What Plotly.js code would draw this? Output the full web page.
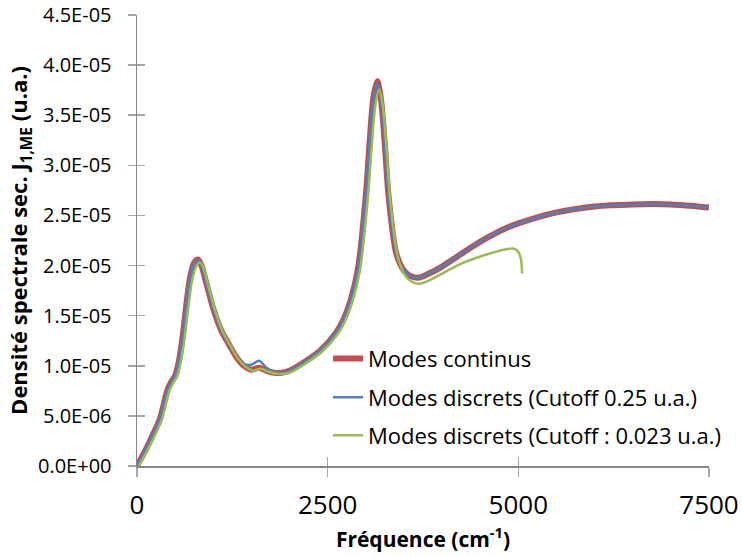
<!DOCTYPE html>
<html>
<head>
<meta charset="utf-8">
<script src="https://cdn.plot.ly/plotly-3.0.1.min.js"></script>
<style>html,body{margin:0;padding:0;background:#fff;}#chart{width:742px;height:557px;}</style>
</head>
<body>
<div id="chart"></div>
<script>
// Frequencies (cm-1) for continuous modes and discrete modes (cutoff 0.25 u.a.)
const freq = [0,100,200,300,400,450,500,550,600,650,
  700,750,800,850,900,1000,1100,1200,1300,1400,
  1500,1600,1700,1800,1900,2000,2200,2400,2600,2700,
  2800,2900,3000,3050,3100,3150,3200,3250,3300,3400,
  3500,3600,3700,3800,4000,4200,4400,4600,4800,5000,
  5500,6000,6500,7000,7500];

const modesContinus = [0,0.14e-5,0.30e-5,0.47e-5,0.76e-5,0.84e-5,0.90e-5,1.05e-5,1.30e-5,1.63e-5,
  1.90e-5,2.03e-5,2.06e-5,1.99e-5,1.85e-5,1.57e-5,1.36e-5,1.22e-5,1.09e-5,1.00e-5,
  0.96e-5,0.98e-5,0.95e-5,0.93e-5,0.93e-5,0.95e-5,1.04e-5,1.15e-5,1.32e-5,1.45e-5,
  1.65e-5,1.98e-5,2.70e-5,3.23e-5,3.68e-5,3.84e-5,3.65e-5,3.20e-5,2.68e-5,2.12e-5,
  1.95e-5,1.89e-5,1.88e-5,1.91e-5,1.99e-5,2.09e-5,2.19e-5,2.28e-5,2.36e-5,2.42e-5,
  2.53e-5,2.59e-5,2.61e-5,2.61e-5,2.58e-5];

const modesDiscrets025 = [0,0.14e-5,0.30e-5,0.47e-5,0.76e-5,0.84e-5,0.90e-5,1.05e-5,1.30e-5,1.63e-5,
  1.90e-5,2.02e-5,2.05e-5,1.99e-5,1.85e-5,1.57e-5,1.36e-5,1.22e-5,1.10e-5,1.02e-5,
  1.01e-5,1.05e-5,0.98e-5,0.93e-5,0.93e-5,0.95e-5,1.04e-5,1.15e-5,1.32e-5,1.45e-5,
  1.65e-5,1.98e-5,2.70e-5,3.23e-5,3.67e-5,3.82e-5,3.64e-5,3.20e-5,2.68e-5,2.12e-5,
  1.95e-5,1.89e-5,1.88e-5,1.91e-5,1.99e-5,2.09e-5,2.19e-5,2.28e-5,2.36e-5,2.42e-5,
  2.53e-5,2.59e-5,2.61e-5,2.61e-5,2.58e-5];

// Discrete modes (cutoff 0.023 u.a.)
const freqCutoff0023 = [25,125,225,325,425,475,525,575,625,675,
  725,775,825,875,925,1025,1125,1225,1325,1425,
  1525,1625,1725,1825,1925,2025,2225,2425,2625,2725,
  2825,2925,3025,3075,3125,3175,3225,3275,3325,3425,
  3525,3625,3725,3825,4025,4225,4425,4625,4825,4925,
  4985,5030,5050];

const modesDiscrets0023 = [0,0.14e-5,0.29e-5,0.46e-5,0.75e-5,0.83e-5,0.89e-5,1.04e-5,1.28e-5,1.60e-5,
  1.86e-5,1.99e-5,2.03e-5,1.97e-5,1.83e-5,1.55e-5,1.34e-5,1.20e-5,1.07e-5,0.99e-5,
  0.95e-5,0.97e-5,0.94e-5,0.92e-5,0.92e-5,0.94e-5,1.03e-5,1.14e-5,1.31e-5,1.44e-5,
  1.64e-5,1.96e-5,2.66e-5,3.16e-5,3.60e-5,3.76e-5,3.58e-5,3.14e-5,2.62e-5,2.07e-5,
  1.89e-5,1.83e-5,1.82e-5,1.85e-5,1.93e-5,2.01e-5,2.07e-5,2.12e-5,2.16e-5,2.17e-5,
  2.15e-5,2.08e-5,1.92e-5];

const seriesNames = ['Modes continus','Modes discrets (Cutoff 0.25 u.a.)','Modes discrets (Cutoff : 0.023 u.a.)'];

const xTickVals = [0,2500,5000,7500];
const xTickText = ['0','2500','5000','7500'];
const yTickVals = [0,0.5e-5,1.0e-5,1.5e-5,2.0e-5,2.5e-5,3.0e-5,3.5e-5,4.0e-5,4.5e-5];
const yTickText = ['0.0E+00','5.0E-06','1.0E-05','1.5E-05','2.0E-05','2.5E-05','3.0E-05','3.5E-05','4.0E-05','4.5E-05'];

const FONT = 'Open Sans, Liberation Sans, sans-serif';
const AXISCOL = '#878787';
const TICKCOL = '#a6a6a6';
const X_RANGE = [0, 7500.01];
const Y_RANGE = [0, 4.50001e-5];

const traces = [
  {x: freq, y: modesContinus, name: seriesNames[0], mode: 'lines', type: 'scatter',
   line: {color: '#C0504D', width: 6, shape: 'spline', smoothing: 0.8}, legend: 'legend'},
  {x: freq, y: modesDiscrets025, name: seriesNames[1], mode: 'lines', type: 'scatter',
   line: {color: '#4F81BD', width: 2.5, shape: 'spline', smoothing: 0.8}, legend: 'legend2'},
  {x: freqCutoff0023, y: modesDiscrets0023, name: seriesNames[2], mode: 'lines', type: 'scatter',
   line: {color: '#9BBB59', width: 2.5, shape: 'spline', smoothing: 0.8}, legend: 'legend3'},
  // empty helper trace so the overlay axes (inner half of the crossing ticks) are drawn
  {x: [], y: [], xaxis: 'x2', yaxis: 'y2', mode: 'lines', type: 'scatter', showlegend: false, hoverinfo: 'skip'}
];

function legendAt(y) {
  return {x: 0.334, xanchor: 'left', y: y, yanchor: 'middle', bgcolor: 'rgba(0,0,0,0)',
    borderwidth: 0, font: {family: FONT, size: 22, color: '#000'}};
}

const layout = {
  width: 742, height: 557,
  margin: {l: 137, r: 33, t: 15, b: 91, pad: 0},
  paper_bgcolor: '#fff', plot_bgcolor: 'rgba(0,0,0,0)',
  showlegend: true,
  legend: legendAt(0.238),
  legend2: legendAt(0.152),
  legend3: legendAt(0.068),
  xaxis: {
    range: X_RANGE, tickvals: xTickVals, ticktext: xTickText,
    ticks: 'outside', ticklen: 9, tickwidth: 1.5, tickcolor: TICKCOL,
    showline: true, linecolor: AXISCOL, linewidth: 1.5,
    showgrid: false, zeroline: false, ticklabelstandoff: 6, ticklabeloverflow: 'allow',
    tickfont: {family: FONT, size: 26, color: '#000'},
    title: {text: '<b>Fréquence (cm<sup>-1</sup>)</b>', font: {family: FONT, size: 21, color: '#000'}, standoff: 4}
  },
  yaxis: {
    range: Y_RANGE, tickvals: yTickVals, ticktext: yTickText,
    ticks: 'outside', ticklen: 8, tickwidth: 1.5, tickcolor: TICKCOL,
    showline: true, linecolor: AXISCOL, linewidth: 1.5,
    showgrid: false, zeroline: false, ticklabelstandoff: 12, ticklabeloverflow: 'allow',
    tickfont: {family: FONT, size: 20, color: '#000'},
    title: {text: '<b>Densité spectrale sec. J<sub>1,ME</sub> (u.a.)</b>', font: {family: FONT, size: 22, color: '#000'}, standoff: 4}
  },
  xaxis2: {
    overlaying: 'x', anchor: 'y2', side: 'bottom', range: X_RANGE, tickvals: xTickVals,
    ticks: 'inside', ticklen: 9, tickwidth: 1.5, tickcolor: TICKCOL,
    showticklabels: false, showline: false, showgrid: false, zeroline: false
  },
  yaxis2: {
    overlaying: 'y', anchor: 'x2', side: 'left', range: Y_RANGE, tickvals: yTickVals,
    ticks: 'inside', ticklen: 8, tickwidth: 1.5, tickcolor: TICKCOL,
    showticklabels: false, showline: false, showgrid: false, zeroline: false
  }
};

Plotly.newPlot('chart', traces, layout, {displayModeBar: false, staticPlot: true});
</script>
</body>
</html>
